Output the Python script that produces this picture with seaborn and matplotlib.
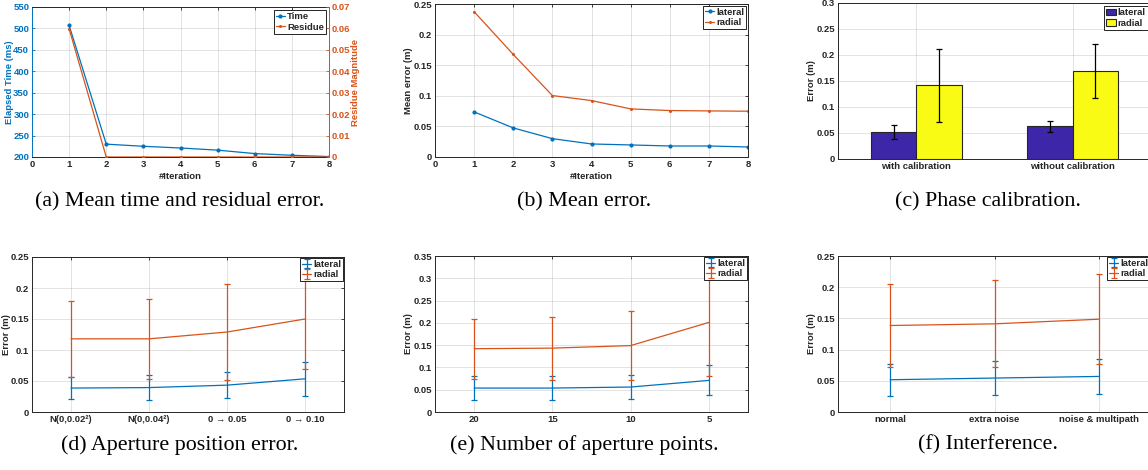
import numpy as np
import pandas as pd
import seaborn as sns
import matplotlib.pyplot as plt
import matplotlib.ticker as ticker

# (a) elapsed time and residue per iteration
iterations = [1, 2, 3, 4, 5, 6, 7, 8]
elapsed_ms = [507, 230, 225, 221, 216, 208, 204, 201]
residue = [0.0598, 0, 0, 0, 0, 0, 0, 0]

# (b) mean error per iteration
iter_lateral = [0.0737, 0.0475, 0.0300, 0.0213, 0.0197, 0.0180, 0.0180, 0.0164]
iter_radial = [0.2374, 0.1676, 0.1004, 0.0922, 0.0786, 0.0759, 0.0753, 0.0748]

# (c) phase calibration
calib_labels = ['with calibration', 'without calibration']
calib_lateral = [0.052, 0.063]
calib_lateral_err = [0.014, 0.011]
calib_radial = [0.142, 0.170]
calib_radial_err = [0.070, 0.052]

# (d) aperture position error
aperture_labels = ['N(0,0.02²)', 'N(0,0.04²)', '0 → 0.05', '0 → 0.10']
aperture_lateral = [0.0386, 0.0394, 0.0433, 0.0535]
aperture_lateral_err = [0.0172, 0.0196, 0.0209, 0.0279]
aperture_radial = [0.1180, 0.1180, 0.1290, 0.1500]
aperture_radial_err = [0.0613, 0.0650, 0.0776, 0.0812]

# (e) number of aperture points
points_labels = ['20', '15', '10', '5']
points_lateral = [0.0537, 0.0537, 0.0560, 0.0709]
points_lateral_err = [0.0265, 0.0265, 0.0272, 0.0336]
points_radial = [0.1420, 0.1433, 0.1490, 0.2010]
points_radial_err = [0.0676, 0.0709, 0.0765, 0.1213]

# (f) interference
interf_labels = ['normal', 'extra noise', 'noise & multipath']
interf_lateral = [0.0517, 0.0544, 0.0570]
interf_lateral_err = [0.0259, 0.0267, 0.0283]
interf_radial = [0.1386, 0.1413, 0.1487]
interf_radial_err = [0.0666, 0.0698, 0.0720]

captions = ['(a) Mean time and residual error.', '(b) Mean error.', '(c) Phase calibration.',
            '(d) Aperture position error.', '(e) Number of aperture points.', '(f) Interference.']

BLUE = '#0072BD'
ORANGE = '#D95319'
PURPLE = '#3E26A8'
YELLOW = '#F9FB15'
DARK = '#262626'
FS = 6.8

sns.set_style('white')
plt.rcParams['font.family'] = ['Liberation Sans', 'DejaVu Sans']
plt.rcParams['font.weight'] = 'bold'


def bold_ticks(ax):
    for lbl in ax.get_xticklabels() + ax.get_yticklabels():
        lbl.set_fontweight('bold')


def matlab_style(ax, ylab, ylab_x):
    """Give an axes the boxed MATLAB look."""
    for s in ax.spines.values():
        s.set_visible(True)
        s.set_color(DARK)
        s.set_linewidth(0.7)
    ax.tick_params(direction='in', length=2.5, width=0.6, labelsize=FS, colors=DARK,
                   top=True, right=True, pad=2)
    ax.grid(True, color=DARK, alpha=0.15, linewidth=0.6)
    ax.set_axisbelow(True)
    ax.yaxis.set_major_formatter(ticker.FormatStrFormatter('%g'))
    ax.set_ylabel(ylab, fontsize=FS, color=DARK, fontweight='bold')
    ax.yaxis.set_label_coords(ylab_x, 0.5)
    bold_ticks(ax)


def mlegend(ax, handles, labels, pad=0.25, hlen=1.0):
    leg = ax.legend(handles, labels, loc='upper right', fontsize=FS, fancybox=False,
                    framealpha=1, edgecolor='black', borderpad=0.2, handlelength=hlen,
                    handletextpad=0.2, labelspacing=0.15, borderaxespad=pad)
    leg.get_frame().set_linewidth(0.6)
    return leg


def error_panel(ax, labels, lat, lat_err, rad, rad_err, ymax, ylab_x):
    xpos = np.arange(1, len(labels) + 1)
    handles = []
    for vals, errs, col in [(lat, lat_err, BLUE), (rad, rad_err, ORANGE)]:
        sns.lineplot(x=xpos, y=vals, ax=ax, color=col, linewidth=0.9, legend=False)
        line = ax.lines[-1]
        eb = ax.errorbar(xpos, vals, yerr=errs, fmt='none', ecolor=col, elinewidth=0.9,
                         capsize=2.5, capthick=0.9)
        handles.append((line, eb))
    ax.set_xlim(0.5, len(labels) + 0.5)
    ax.set_ylim(0, ymax)
    ax.set_yticks(np.arange(0, ymax + 1e-9, 0.05))
    ax.set_xticks(xpos)
    ax.set_xticklabels(labels)
    matlab_style(ax, 'Error (m)', ylab_x)
    mlegend(ax, handles, ['lateral', 'radial'], pad=0.1)


fig = plt.figure(figsize=(11.48, 4.70), dpi=100)
W, H = 1148, 470


def add_ax(left, right, top, bottom):
    return fig.add_axes([left / W, 1 - bottom / H, (right - left) / W, (bottom - top) / H])


# (a)
ax = add_ax(32, 329, 7, 157)
ax2 = ax.twinx()
sns.lineplot(x=iterations, y=elapsed_ms, ax=ax, color=BLUE, marker='o', markersize=3,
             markeredgewidth=0, linewidth=0.9, label='Time')
sns.lineplot(x=iterations, y=residue, ax=ax2, color=ORANGE, marker='o', markersize=2.2,
             markeredgewidth=0, linewidth=0.9, label='Residue')
ax.set_xlim(0, 8)
ax.set_ylim(200, 550)
ax.set_yticks(np.arange(200, 551, 50))
ax2.set_ylim(0, 0.07)
ax2.set_yticks(np.arange(0, 0.0701, 0.01))
matlab_style(ax, 'Elapsed Time (ms)', -0.061)
ax.tick_params(right=False)
ax.yaxis.label.set_color(BLUE)
ax.tick_params(axis='y', colors=BLUE)
ax.spines['left'].set_color(BLUE)
ax.set_xlabel('#Iteration', fontsize=FS, color=DARK, fontweight='bold')
ax.xaxis.set_label_coords(0.5, -0.10)
for s in ax2.spines.values():
    s.set_visible(False)
ax2.spines['right'].set_visible(True)
ax2.spines['right'].set_color(ORANGE)
ax2.spines['right'].set_linewidth(0.7)
ax2.tick_params(axis='y', direction='in', length=2.5, width=0.6, labelsize=FS, colors=ORANGE, pad=2)
ax2.yaxis.set_major_formatter(ticker.FormatStrFormatter('%g'))
ax2.set_ylabel('Residue Magnitude', fontsize=FS, color=ORANGE, fontweight='bold')
ax2.yaxis.set_label_coords(1.074, 0.5)
ax2.grid(False)
bold_ticks(ax2)
ax.get_legend().remove()
h1, l1 = ax.get_legend_handles_labels()
h2, l2 = ax2.get_legend_handles_labels()
mlegend(ax2, h1 + h2, l1 + l2, pad=0.35)

# (b)
ax = add_ax(435, 748, 4, 157)
sns.lineplot(x=iterations, y=iter_lateral, ax=ax, color=BLUE, marker='o', markersize=3,
             markeredgewidth=0, linewidth=0.9, label='lateral')
sns.lineplot(x=iterations, y=iter_radial, ax=ax, color=ORANGE, marker='o', markersize=2.2,
             markeredgewidth=0, linewidth=0.9, label='radial')
ax.set_xlim(0, 8)
ax.set_ylim(0, 0.25)
ax.set_yticks(np.arange(0, 0.2501, 0.05))
matlab_style(ax, 'Mean error (m)', -0.069)
ax.set_xlabel('#Iteration', fontsize=FS, color=DARK, fontweight='bold')
ax.xaxis.set_label_coords(0.5, -0.10)
h, l = ax.get_legend_handles_labels()
mlegend(ax, h, l, pad=0.2)

# (c)
ax = add_ax(838, 1151, 3, 159)
calib_df = pd.DataFrame({
    'cond': calib_labels * 2,
    'dir': ['lateral'] * 2 + ['radial'] * 2,
    'err': calib_lateral + calib_radial,
})
sns.barplot(data=calib_df, x='cond', y='err', hue='dir', palette=[PURPLE, YELLOW],
            saturation=1, width=0.58, edgecolor=DARK, linewidth=0.8, errorbar=None,
            ax=ax, zorder=2)
for cont, errs in zip(ax.containers, [calib_lateral_err, calib_radial_err]):
    xs = [b.get_x() + b.get_width() / 2 for b in cont]
    hs = [b.get_height() for b in cont]
    ax.errorbar(xs, hs, yerr=errs, fmt='none', ecolor='black', elinewidth=0.9,
                capsize=2.5, capthick=0.9, zorder=3)
ax.set_xlim(-0.5, 1.5)
ax.set_ylim(0, 0.3)
ax.set_yticks(np.arange(0, 0.3001, 0.05))
ax.set_xlabel('')
matlab_style(ax, 'Error (m)', -0.069)
ax.tick_params(axis='x', length=0)
h, l = ax.get_legend_handles_labels()
ax.get_legend().remove()
leg = mlegend(ax, h, l, pad=0.35, hlen=1.1)
leg.set_zorder(5)

# (d), (e), (f)
error_panel(add_ax(32, 344, 257, 412), aperture_labels, aperture_lateral, aperture_lateral_err,
            aperture_radial, aperture_radial_err, 0.25, -0.066)
error_panel(add_ax(435, 748, 256, 412), points_labels, points_lateral, points_lateral_err,
            points_radial, points_radial_err, 0.35, -0.069)
error_panel(add_ax(838, 1151, 256, 412), interf_labels, interf_lateral, interf_lateral_err,
            interf_radial, interf_radial_err, 0.25, -0.069)

# captions
cap_x = [180, 584, 988]
for i, cap in enumerate(captions):
    y = 202 if i < 3 else 445
    fig.text(cap_x[i % 3] / W, 1 - y / H, cap, ha='center', va='center', fontsize=15.8,
             family=['Liberation Serif', 'DejaVu Serif'], fontweight='normal', color='black')

fig.savefig('out.png', dpi=100)
